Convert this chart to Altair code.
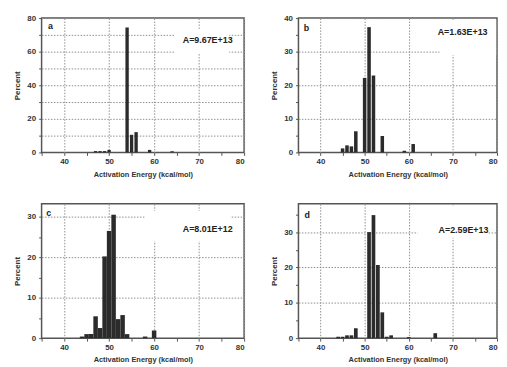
import altair as alt
import pandas as pd

# Panel a
energy_a = [47, 48, 49, 50, 54, 55, 56, 59, 64]
pct_a = [0.8, 0.8, 0.8, 1.5, 74.4, 10.5, 12.1, 1.5, 0.7]
# Panel b
energy_b = [45, 46, 47, 48, 50, 51, 52, 54, 59, 61]
pct_b = [1.2, 2.1, 1.8, 6.3, 22.2, 37.3, 22.9, 4.9, 0.5, 2.5]
# Panel c
energy_c = [44, 45, 46, 47, 48, 49, 50, 51, 52, 53, 54, 58, 60]
pct_c = [0.4, 1.0, 1.0, 5.4, 2.5, 20.2, 26.5, 30.5, 4.7, 5.7, 1.0, 0.4, 1.9]
# Panel d
energy_d = [44, 45, 46, 47, 48, 51, 52, 53, 54, 55, 56, 60, 66]
pct_d = [0.4, 0.4, 0.8, 0.8, 2.8, 30.0, 34.8, 20.7, 7.3, 0.4, 0.8, 0.3, 1.4]

letters = ["a", "b", "c", "d"]
annotations = ["A=9.67E+13", "A=1.63E+13", "A=8.01E+12", "A=2.59E+13"]
letter_x = [37.0, 36.8, 36.6, 37.0]
letter_y = [75.5, 37.0, 30.8, 34.7]
ann_x = [71.9, 72.2, 71.9, 72.4]
ann_y = [66.8, 35.9, 27.0, 30.7]
# white label boxes (data units) that interrupt the grid behind the annotation
box_x0 = [64.6, 67.0, 58.0, 62.0]
box_x1 = [76.7, 79.8, 77.0, 78.0]
box_y0 = [58.6, 29.0, 24.0, 28.4]
box_y1 = [73.0, 39.5, 31.5, 37.5]
y_max = [80, 40, 33.2, 38]
y_tick_step = [10, 5, 5, 5]
y_label_step = [20, 10, 10, 10]
bar_half = [0.37, 0.4, 0.5, 0.42]
panel_w = [205, 201, 205, 201]

FONT = "Liberation Sans"
GRID = {"condition": {"test": "datum.value % 10 === 0 && datum.value > 0", "value": 1}, "value": 0}


def panel(i, energies, pcts):
    df = pd.DataFrame({"e": energies, "p": pcts})
    xscale = alt.Scale(domain=[35, 80], nice=False, zero=False)
    yscale = alt.Scale(domain=[0, y_max[i]], nice=False)
    xaxis = alt.Axis(
        title="Activation Energy (kcal/mol)",
        values=list(range(35, 81, 5)),
        labelExpr="datum.value % 10 === 0 ? datum.label : ''",
        grid=True, gridOpacity=GRID, gridColor="#8f8f8f", gridDash=[1.5, 1.5], gridWidth=1,
        tickSize=3, labelPadding=2, titlePadding=5,
    )
    ls = y_label_step[i]
    yaxis = alt.Axis(
        title="Percent",
        values=list(range(0, int(y_max[i]) + 1, y_tick_step[i])),
        labelExpr=f"datum.value % {ls} === 0 ? datum.label : ''",
        grid=True, gridOpacity=GRID, gridColor="#8f8f8f", gridDash=[1.5, 1.5], gridWidth=1,
        tickSize=3, labelPadding=3, titlePadding=5,
    )
    h = bar_half[i]
    bars = alt.Chart(df).transform_calculate(
        x1=f"datum.e - {h}", x2=f"datum.e + {h}", base="0"
    ).mark_bar(color="#2b2b2b").encode(
        x=alt.X("x1:Q", scale=xscale, axis=xaxis),
        x2="x2:Q",
        y=alt.Y("p:Q", scale=yscale, axis=yaxis),
        y2="base:Q",
    )
    box = pd.DataFrame({"x1": [box_x0[i]], "x2": [box_x1[i]], "p": [box_y0[i]], "p2": [box_y1[i]]})
    boxr = alt.Chart(box).mark_rect(color="white").encode(
        x=alt.X("x1:Q", scale=xscale, axis=xaxis), x2="x2:Q",
        y=alt.Y("p:Q", scale=yscale, axis=yaxis), y2="p2:Q")
    lab = pd.DataFrame({"x1": [letter_x[i]], "p": [letter_y[i]], "t": [letters[i]]})
    letter = alt.Chart(lab).mark_text(font=FONT, fontSize=9, fontWeight="bold", color="#222", align="center", baseline="middle").encode(
        x=alt.X("x1:Q", scale=xscale, axis=xaxis), y=alt.Y("p:Q", scale=yscale, axis=yaxis), text="t:N")
    ann = pd.DataFrame({"x1": [ann_x[i]], "p": [ann_y[i]], "t": [annotations[i]]})
    annt = alt.Chart(ann).mark_text(font=FONT, fontSize=9, fontWeight="bold", color="#222", align="center", baseline="middle").encode(
        x=alt.X("x1:Q", scale=xscale, axis=xaxis), y=alt.Y("p:Q", scale=yscale, axis=yaxis), text="t:N")
    return alt.layer(bars, boxr, letter, annt).properties(width=panel_w[i], height=136)


pa = panel(0, energy_a, pct_a)
pb = panel(1, energy_b, pct_b)
pc = panel(2, energy_c, pct_c)
pd_ = panel(3, energy_d, pct_d)

chart = alt.concat(pa, pb, pc, pd_, columns=2, spacing={"row": 52, "column": 55}, bounds="flush").properties(
    padding={"left": 5, "top": 3, "right": 0, "bottom": 0}
).configure_view(stroke="#555", strokeWidth=1.5).configure_axis(
    domain=False,
    labelFont=FONT, labelFontSize=8, labelFontWeight="bold", labelColor="#333",
    titleFont=FONT, titleFontWeight="bold", titleColor="#333",
    tickColor="#555",
).configure_axisX(titleFontSize=7.5).configure_axisY(titleFontSize=8)

chart.save("out.html", embed_options={"renderer": "svg", "actions": False})
